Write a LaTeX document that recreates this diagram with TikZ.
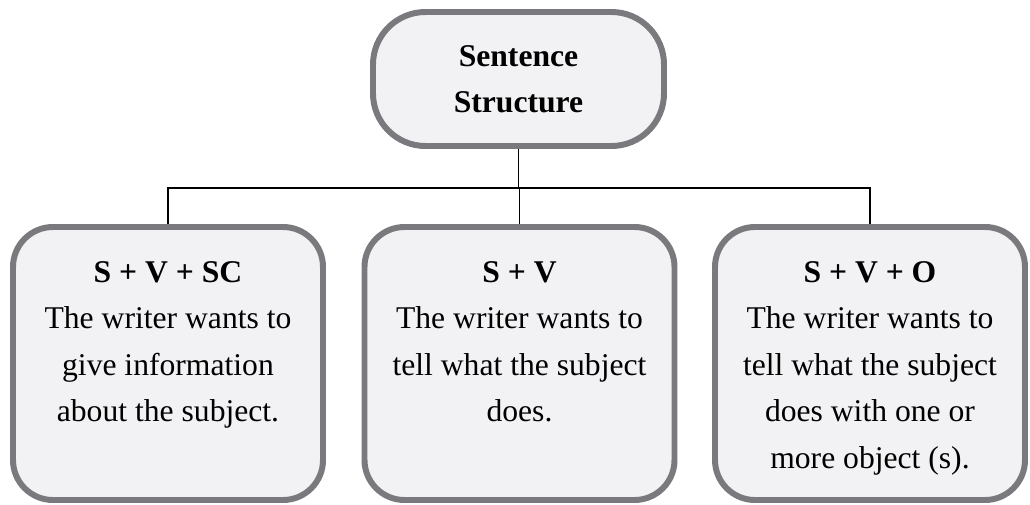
\documentclass[tikz,border=0pt]{standalone}
\usepackage{fontspec}
\setmainfont{Liberation Serif}
\usepackage{xcolor}
\definecolor{boxfill}{RGB}{242,242,244}
\definecolor{boxline}{RGB}{122,122,126}

\newcommand{\boxtext}[2]{\parbox[c][5.46cm][t]{6.1cm}{\centering\rule{0pt}{1.1cm}\textbf{#1}\\#2}}

\begin{document}
\begin{tikzpicture}
[line width=0.8pt,
 topbox/.style={draw=boxline,fill=boxfill,line width=3.4pt,rounded corners=1.05cm,
   minimum width=5.82cm,minimum height=2.68cm,inner sep=0pt,align=center,
   font=\fontsize{18}{26.2}\selectfont\bfseries},
 lowbox/.style={draw=boxline,fill=boxfill,line width=3.4pt,rounded corners=0.8cm,
   minimum width=6.2cm,minimum height=5.46cm,inner sep=0pt,
   font=\fontsize{18}{26.5}\selectfont},
 link/.style={black,line width=0.8pt}]

\useasboundingbox (0,0) rectangle (20.6,-10.1);

\node[topbox] (title) at (10.37,-1.58) {Sentence\\Structure};

\node[lowbox] (svsc) at (3.36,-7.27) {\boxtext{S + V + SC}{The writer wants to\\give information\\about the subject.}};
\node[lowbox] (sv) at (10.39,-7.27) {\boxtext{S + V}{The writer wants to\\tell what the subject\\does.}};
\node[lowbox] (svo) at (17.4,-7.27) {\boxtext{S + V + O}{The writer wants to\\tell what the subject\\does with one or\\more object (s).}};

\coordinate (bar) at (0,-3.76); %level of the branch line

\draw[link] (title.south) -- (title.south |- bar);
\draw[link] (svsc.north) -- (svsc.north |- bar) -- (svo.north |- bar) -- (svo.north);
\draw[link] (sv.north) -- (sv.north |- bar);

\end{tikzpicture}
\end{document}
